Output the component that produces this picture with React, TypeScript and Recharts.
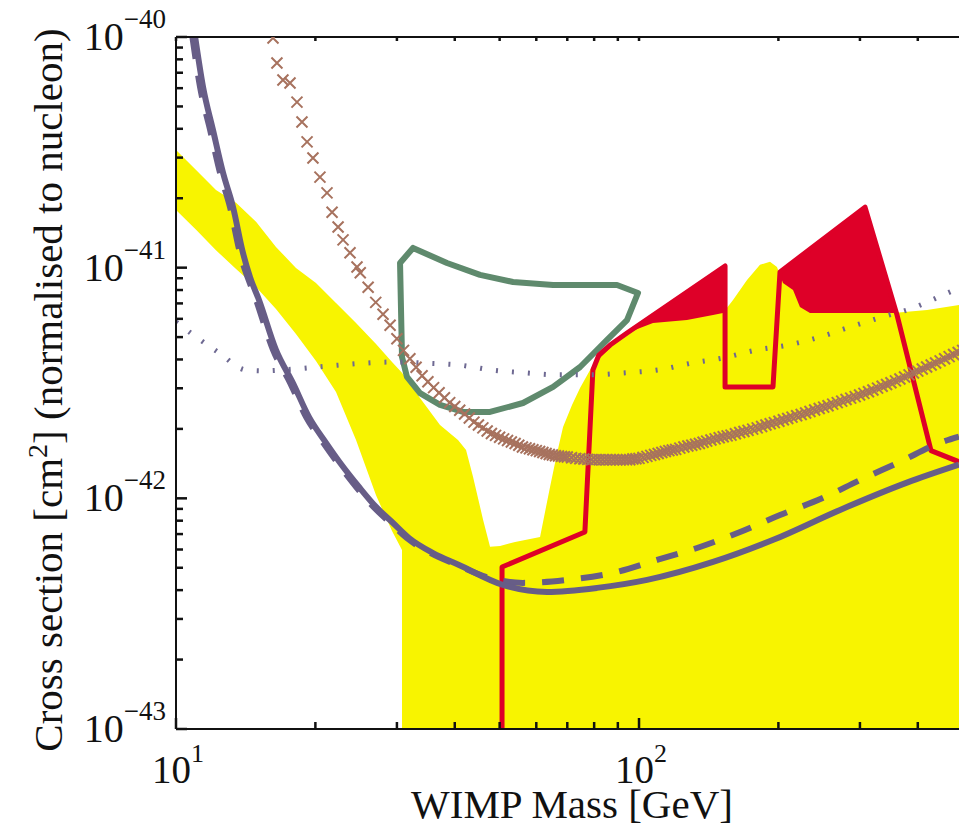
import { ComposedChart, XAxis, YAxis, Line, Area, Scatter } from 'recharts'

const FLOOR = 1e-43
const SERIF = 'Liberation Serif, Times New Roman, DejaVu Serif, serif'

// tick positions (log axes)
const massTicks = [10, 20, 30, 40, 50, 60, 70, 80, 90, 100, 200, 300, 400]
const sigmaTicks = [
  1e-43, 2e-43, 3e-43, 4e-43, 5e-43, 6e-43, 7e-43, 8e-43, 9e-43,
  1e-42, 2e-42, 3e-42, 4e-42, 5e-42, 6e-42, 7e-42, 8e-42, 9e-42,
  1e-41, 2e-41, 3e-41, 4e-41, 5e-41, 6e-41, 7e-41, 8e-41, 9e-41, 1e-40,
]

// yellow allowed region: upper edge, and lower edge of the left band
const yellowMass = [10, 11.05, 12.2, 13.48, 14.89, 16.44, 18.16, 20.06, 22.16, 24.48, 27.04, 29.28, 30.77, 30.77, 33.65, 37.17, 40.65, 42.31, 43.8, 46.06, 47.67, 50.1, 53.99, 58.16, 61.13, 64.24, 66.52, 68.54, 71.66, 74.58, 79.55, 87.86, 94.21, 107.2, 126.9, 144.5, 151.8, 159.6, 171.1, 182.5, 191.8, 198.6, 204.6, 215.1, 222.6, 234, 353.8, 418.8, 491]
const yellowTop = [3.24e-41, 2.65e-41, 2.17e-41, 1.91e-41, 1.58e-41, 1.23e-41, 9.97e-42, 8.58e-42, 7.03e-42, 5.76e-42, 4.67e-42, 3.9e-42, 3.5e-42, 3.5e-42, 2.72e-42, 2.08e-42, 1.79e-42, 1.62e-42, 1.24e-42, 8.06e-43, 6.16e-43, 6.22e-43, 6.47e-43, 6.67e-43, 6.8e-43, 1.12e-42, 1.57e-42, 2.04e-42, 2.54e-42, 3.01e-42, 3.79e-42, 4.62e-42, 5.21e-42, 5.76e-42, 5.93e-42, 6.24e-42, 6.36e-42, 7.24e-42, 8.84e-42, 1.03e-41, 1.06e-41, 1.007e-41, 8.58e-42, 8.0e-42, 6.75e-42, 6.36e-42, 6.36e-42, 6.55e-42, 6.89e-42]
const yellowBandLow = [1.78e-41, 1.46e-41, 1.19e-41, 9.87e-42, 8.25e-42, 6.62e-42, 5.16e-42, 3.94e-42, 2.89e-42, 1.79e-42, 1.03e-42, 7.22e-43, 5.97e-43]

// red region outline
const redMass = [50.6, 50.6, 76.4, 79.5, 81.9, 86.6, 94.2, 153.4, 153.4, 194.7, 201.6, 307.7, 360.7, 427.2, 491]
const redSigma = [1e-43, 5.04e-43, 7.15e-43, 3.6e-42, 4.18e-42, 4.62e-42, 5.21e-42, 1.017e-41, 3.04e-42, 3.04e-42, 9.58e-42, 1.83e-41, 6.24e-42, 1.61e-42, 1.44e-42]

// green closed contour
const greenMass = [32.5, 38.48, 45.36, 53.44, 65.23, 89.63, 99.5, 94.2, 85.3, 74.6, 65.23, 56.16, 47.67, 41.69, 37.17, 33.65, 31.54, 30.77, 30.47, 32.5]
const greenSigma = [1.217e-41, 1.048e-41, 9.3e-42, 8.67e-42, 8.41e-42, 8.41e-42, 7.77e-42, 5.93e-42, 4.86e-42, 3.71e-42, 3.04e-42, 2.59e-42, 2.37e-42, 2.37e-42, 2.54e-42, 2.86e-42, 3.36e-42, 4.1e-42, 1.048e-41, 1.217e-41]

// dotted curve
const dotMass = [10, 11.05, 12.39, 14.16, 15.41, 18.16, 21.4, 25.35, 29.43, 34.84, 40.65, 48.14, 56.72, 66.85, 79.15, 93.29, 109.9, 130.2, 151.8, 179.8, 209.8, 246, 285.6, 334.8, 390.7, 453.5, 491]
const dotSigma = [5.81e-42, 5.01e-42, 4.27e-42, 3.6e-42, 3.57e-42, 3.64e-42, 3.75e-42, 3.85e-42, 3.9e-42, 3.85e-42, 3.79e-42, 3.6e-42, 3.5e-42, 3.43e-42, 3.43e-42, 3.5e-42, 3.6e-42, 3.86e-42, 4.06e-42, 4.4e-42, 4.62e-42, 5.01e-42, 5.53e-42, 6.11e-42, 6.69e-42, 7.61e-42, 8.17e-42]

// solid and dashed limit curves
const solidMass = [11.0, 11.44, 12.02, 12.64, 13.28, 13.95, 14.45, 15.11, 16.44, 17.89, 19.38, 21.09, 22.95, 24.85, 27.04, 29.43, 31.86, 35.91, 40.86, 50.86, 63.29, 81.15, 104.1, 144.5, 195, 271.8, 379, 491]
const solidSigma = [1.0e-40, 6.07e-41, 3.95e-41, 2.57e-41, 1.83e-41, 1.16e-41, 9.1e-42, 7.24e-42, 4.4e-42, 3.16e-42, 2.25e-42, 1.74e-42, 1.37e-42, 1.12e-42, 9.18e-43, 7.82e-43, 6.73e-43, 5.79e-43, 5.14e-43, 4.21e-43, 3.93e-43, 4.09e-43, 4.43e-43, 5.3e-43, 6.61e-43, 8.91e-43, 1.17e-42, 1.4e-42]
const dashMass = [10.85, 11.27, 11.85, 12.45, 13.08, 13.74, 14.9, 16.2, 17.65, 19.1, 20.8, 22.65, 24.5, 26.7, 29.05, 31.5, 35.5, 40.5, 47, 56.16, 69.9, 87.9, 109.4, 135.4, 165.3, 201.6, 248.5, 300.1, 366.1, 446.8, 491]
const dashSigma = [1e-40, 6.07e-41, 3.95e-41, 2.57e-41, 1.83e-41, 1.16e-41, 7.24e-42, 4.4e-42, 3.16e-42, 2.25e-42, 1.74e-42, 1.37e-42, 1.12e-42, 9.18e-43, 7.82e-43, 6.73e-43, 5.79e-43, 5.14e-43, 4.55e-43, 4.3e-43, 4.43e-43, 4.75e-43, 5.41e-43, 6.15e-43, 7.15e-43, 8.47e-43, 1.0e-42, 1.2e-42, 1.44e-42, 1.74e-42, 1.85e-42]

// brown crosses (sparse at low mass, packed into a band at high mass)
const crossMass = [16.2, 16.52, 17.02, 17.63, 18.25, 18.71, 19.19, 19.76, 20.46, 21.19, 21.73, 22.39, 22.95, 23.76, 24.6,
  25, 26, 27, 28, 29, 30, 31, 32, 33, 34, 35, 36, 37, 38, 39, 40, 41, 42, 43, 44, 45, 46, 47, 48,
  49, 50, 51, 52, 53, 54, 55, 56, 57, 58, 59, 60, 61, 62, 63, 64, 65, 66, 67, 68, 69, 70,
  71.5, 73, 74.5, 76, 77.5, 79, 80.5, 82, 83.5, 85, 86.5, 88, 89.5, 91, 92.5, 94, 95.5, 97, 98.5,
  100, 102, 104, 106, 108, 110, 112, 114, 116, 118, 120, 122.5, 125, 127.5, 130, 132.5, 135, 137.5, 140,
  143, 146, 149, 152, 155, 158, 161.5, 165, 168.5, 172, 176, 180, 184, 188, 192, 196, 200.5,
  205, 209.5, 214, 219, 224, 229, 234, 239.5, 245, 250.5, 256, 262, 268, 274, 280, 286.5, 293, 299.5,
  306, 313, 320, 327.5, 335, 342.5, 350, 358, 366, 374.5, 383, 391.5, 400, 409, 418, 427.5, 437, 447, 457, 467.5, 478, 489, 500]
const crossSigma = [9.9e-41, 7.71e-41, 6.51e-41, 6.32e-41, 5.22e-41, 4.28e-41, 3.51e-41, 2.99e-41, 2.47e-41, 2.11e-41, 1.74e-41, 1.5e-41, 1.32e-41, 1.16e-41, 1.007e-41,
  9.5e-42, 8.22e-42, 7.07e-42, 6.28e-42, 5.63e-42, 4.92e-42, 4.38e-42, 4.03e-42, 3.7e-42, 3.4e-42, 3.2e-42, 3.02e-42, 2.87e-42, 2.73e-42, 2.6e-42, 2.5e-42, 2.41e-42, 2.32e-42, 2.23e-42, 2.14e-42, 2.08e-42, 2.02e-42, 1.96e-42, 1.91e-42,
  1.875e-42, 1.84e-42, 1.81e-42, 1.78e-42, 1.755e-42, 1.73e-42, 1.7e-42, 1.67e-42, 1.655e-42, 1.64e-42, 1.625e-42, 1.61e-42, 1.595e-42, 1.58e-42, 1.565e-42, 1.55e-42, 1.54e-42, 1.53e-42, 1.525e-42, 1.52e-42, 1.515e-42, 1.51e-42,
  1.5e-42, 1.49e-42, 1.485e-42, 1.48e-42, 1.475e-42, 1.47e-42, 1.47e-42, 1.47e-42, 1.47e-42, 1.47e-42, 1.47e-42, 1.47e-42, 1.47e-42, 1.47e-42, 1.47e-42, 1.47e-42, 1.47e-42, 1.48e-42, 1.485e-42,
  1.49e-42, 1.505e-42, 1.52e-42, 1.535e-42, 1.55e-42, 1.565e-42, 1.58e-42, 1.595e-42, 1.61e-42, 1.62e-42, 1.63e-42, 1.65e-42, 1.67e-42, 1.685e-42, 1.7e-42, 1.715e-42, 1.73e-42, 1.75e-42, 1.77e-42,
  1.79e-42, 1.81e-42, 1.83e-42, 1.85e-42, 1.865e-42, 1.88e-42, 1.905e-42, 1.93e-42, 1.95e-42, 1.97e-42, 1.995e-42, 2.02e-42, 2.05e-42, 2.08e-42, 2.105e-42, 2.13e-42, 2.16e-42,
  2.19e-42, 2.22e-42, 2.25e-42, 2.28e-42, 2.31e-42, 2.345e-42, 2.38e-42, 2.415e-42, 2.45e-42, 2.485e-42, 2.52e-42, 2.56e-42, 2.6e-42, 2.64e-42, 2.68e-42, 2.72e-42, 2.76e-42, 2.805e-42,
  2.85e-42, 2.9e-42, 2.95e-42, 3.005e-42, 3.06e-42, 3.115e-42, 3.17e-42, 3.23e-42, 3.29e-42, 3.36e-42, 3.43e-42, 3.495e-42, 3.56e-42, 3.635e-42, 3.71e-42, 3.785e-42, 3.86e-42, 3.945e-42, 4.03e-42, 4.115e-42, 4.2e-42, 4.29e-42, 4.38e-42]

const zip = (ms: number[], ss: number[]) => ms.map((m, i) => ({ m, s: ss[i] }))

const yellowData = yellowMass.map((m, i) => ({
  m,
  r: [i < yellowBandLow.length ? yellowBandLow[i] : FLOOR, yellowTop[i]],
}))
const redData = zip(redMass, redSigma)
const greenData = zip(greenMass, greenSigma)
const dotData = zip(dotMass, dotSigma)
const solidData = zip(solidMass, solidSigma)
const dashData = zip(dashMass, dashSigma)
const crossData = zip(crossMass, crossSigma)

const isDecade = (v: number) => {
  const l = Math.log10(v)
  return Math.abs(l - Math.round(l)) < 1e-6
}
const expOf = (v: number) => Math.round(Math.log10(v))
const fmtExp = (e: number) => (e < 0 ? '\u2212' + Math.abs(e) : String(e))

const txt = { fontFamily: SERIF }

function XTick(props: any) {
  const { x, y, payload } = props
  const major = isDecade(payload.value)
  return (
    <g>
      <line x1={x} y1={y} x2={x} y2={y - (major ? 11 : 7)} stroke="#111" strokeWidth={2.5} />
      {major && (
        <text x={x + 2} y={y + 54} textAnchor="middle" style={txt} fontSize={39} fill="#111">
          10<tspan dy={-21} fontSize={26}>{fmtExp(expOf(payload.value))}</tspan>
        </text>
      )}
    </g>
  )
}

function TopTick(props: any) {
  const { x, y } = props
  return <line x1={x} y1={y} x2={x} y2={y + 4} stroke="#111" strokeWidth={2.5} />
}

function YTick(props: any) {
  const { x, y, payload } = props
  const major = isDecade(payload.value)
  return (
    <g>
      <line x1={x} y1={y} x2={x + (major ? 11 : 7)} y2={y} stroke="#111" strokeWidth={2.5} />
      {major && (
        <text x={x - 10} y={y + 13} textAnchor="end" style={txt} fontSize={40} fill="#111">
          10<tspan dy={-22} fontSize={27}>{fmtExp(expOf(payload.value))}</tspan>
        </text>
      )}
    </g>
  )
}

function CrossMark(props: any) {
  const { cx, cy } = props
  if (cx == null || cy == null) return null
  const h = 5.5
  return (
    <path
      d={`M${cx - h},${cy - h}L${cx + h},${cy + h}M${cx - h},${cy + h}L${cx + h},${cy - h}`}
      stroke="#a7725e"
      strokeWidth={2}
      fill="none"
    />
  )
}

const yLabel = () => (
  <text
    x={62}
    y={390}
    transform="rotate(-90, 62, 390)"
    textAnchor="middle"
    style={txt}
    fontSize={41}
    fill="#111"
  >
    Cross section [cm<tspan dy={-15} fontSize={28}>2</tspan>
    <tspan dy={15}>] (normalised to nucleon)</tspan>
  </text>
)

const xLabel = () => (
  <text x={572} y={818} textAnchor="middle" style={txt} fontSize={41} fill="#111">
    WIMP Mass [GeV]
  </text>
)

export default function App() {
  return (
    <div style={{ position: 'absolute', left: 0, top: 0, width: 959, height: 829, background: '#fff' }}>
      <ComposedChart width={959} height={829} margin={{ top: 36, right: 0, bottom: 0, left: 0 }}>
        <XAxis
          dataKey="m"
          type="number"
          scale="log"
          domain={[10, 491]}
          allowDataOverflow
          ticks={massTicks}
          interval={0}
          tickSize={0}
          tickMargin={0}
          tick={<XTick />}
          height={100}
          stroke="#111"
          strokeWidth={2}
          label={xLabel}
        />
        <XAxis
          xAxisId="top"
          orientation="top"
          dataKey="m"
          type="number"
          scale="log"
          domain={[10, 491]}
          allowDataOverflow
          ticks={massTicks}
          interval={0}
          tickSize={0}
          tickMargin={0}
          tick={<TopTick />}
          height={1}
          stroke="#111"
          strokeWidth={2}
        />
        <YAxis
          type="number"
          scale="log"
          domain={[1e-43, 1e-40]}
          allowDataOverflow
          ticks={sigmaTicks}
          interval={0}
          tickSize={0}
          tickMargin={0}
          tick={<YTick />}
          width={176}
          stroke="#111"
          strokeWidth={2}
          label={yLabel}
        />
        <Area data={redData} dataKey="s" type="linear" baseValue={FLOOR} fill="#de0028" fillOpacity={1} stroke="none" isAnimationActive={false} />
        <Area data={yellowData} dataKey="r" type="linear" fill="#f8f400" fillOpacity={1} stroke="none" isAnimationActive={false} />
        <Line data={greenData} dataKey="s" type="linear" stroke="#5f8a6d" strokeWidth={6} strokeLinejoin="round" strokeLinecap="round" dot={false} activeDot={false} isAnimationActive={false} />
        <Line data={redData} dataKey="s" type="linear" stroke="#de0028" strokeWidth={5} strokeLinejoin="round" dot={false} activeDot={false} isAnimationActive={false} />
        <Line data={dotData} dataKey="s" type="monotone" stroke="#6e6992" strokeWidth={5} strokeDasharray="2 14" dot={false} activeDot={false} isAnimationActive={false} />
        <Line data={dashData} dataKey="s" type="monotone" stroke="#675d87" strokeWidth={6} strokeDasharray="22 17" dot={false} activeDot={false} isAnimationActive={false} />
        <Line data={solidData} dataKey="s" type="monotone" stroke="#675d87" strokeWidth={6} dot={false} activeDot={false} isAnimationActive={false} />
        <Scatter data={crossData} dataKey="s" shape={(p: any) => <CrossMark {...p} />} isAnimationActive={false} />
      </ComposedChart>
    </div>
  )
}
